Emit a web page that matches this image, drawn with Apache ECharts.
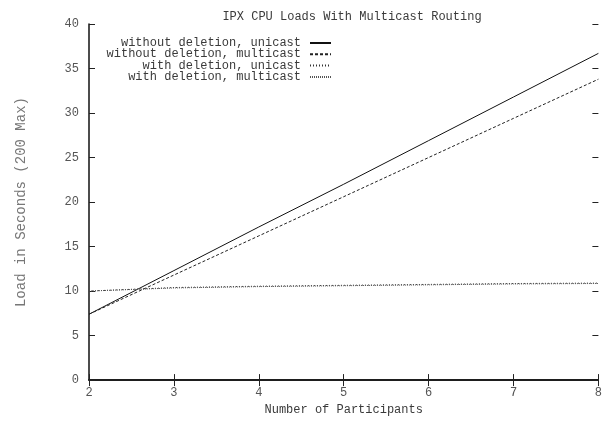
<!DOCTYPE html>
<html>
<head>
<meta charset="utf-8">
<script src="https://cdn.jsdelivr.net/npm/echarts@6/dist/echarts.min.js"></script>
<style>html,body{margin:0;padding:0;background:#fff}#c{width:605px;height:421px}</style>
</head>
<body>
<div id="c"></div>
<script>
var participants = [2, 3, 4, 5, 6, 7, 8];
var noDelUnicast = [7.4, 12.3, 17.2, 22.0, 26.9, 31.8, 36.7];
var noDelMulticast = [7.4, 11.8, 16.2, 20.6, 25.0, 29.4, 33.8];
var delUnicast = [10.0, 10.4, 10.55, 10.65, 10.75, 10.85, 10.9];
var delMulticast = [10.0, 10.35, 10.5, 10.6, 10.7, 10.8, 10.85];
var seriesNames = ['without deletion, unicast', 'without deletion, multicast', 'with deletion, unicast', 'with deletion, multicast'];
var xTicks = [2, 3, 4, 5, 6, 7, 8];
var yTicks = [0, 5, 10, 15, 20, 25, 30, 35, 40];

function pairs(ys) { return participants.map(function (x, i) { return [x, ys[i]]; }); }
var FONT = 'Liberation Mono';
var TXT = '#555';
var styles = [
  { color: '#111', type: 'solid', width: 1 },
  { color: '#222', type: [3, 2], width: 1 },
  { color: '#333', type: [1, 2], width: 1 },
  { color: '#555', type: [1, 1], width: 1 }
];
var allData = [noDelUnicast, noDelMulticast, delUnicast, delMulticast];

var chart = echarts.init(document.getElementById('c'), null, { renderer: 'canvas' });
var legends = seriesNames.map(function (n, i) {
  return {
    data: [n], right: 273, top: 37 + i * 11.3, align: 'right', orient: 'vertical',
    itemWidth: 21, itemHeight: 8, itemGap: 0, padding: 0,
    itemStyle: { opacity: 0 },
    textStyle: { fontFamily: FONT, fontSize: 12, color: '#3a3a3a', padding: [0, 4, 0, 0] },
    selectedMode: false
  };
});
var tickStyle = { show: true, inside: true, length: 6, lineStyle: { color: '#222', width: 1 } };
chart.setOption({
  animation: false,
  title: { text: 'IPX CPU Loads With Multicast Routing', left: 347, textAlign: 'center', top: 6,
    textStyle: { fontFamily: FONT, fontSize: 12, fontWeight: 'normal', color: '#3a3a3a' } },
  legend: legends,
  grid: { left: 89, right: -1, top: 24, bottom: 34 },
  xAxis: [{
    type: 'value', min: 2, max: 8, interval: 1, position: 'bottom',
    name: 'Number of Participants', nameLocation: 'middle', nameGap: 20,
    nameTextStyle: { fontFamily: FONT, fontSize: 12, color: '#3a3a3a' },
    axisLine: { show: true, lineStyle: { color: '#111', width: 1.5 } },
    axisTick: tickStyle, splitLine: { show: false },
    axisLabel: { fontFamily: FONT, fontSize: 12, color: TXT, margin: 7,
      formatter: function (v) { return xTicks.indexOf(v) >= 0 ? String(v) : ''; } }
  }, {
    type: 'value', min: 2, max: 8, interval: 1, position: 'top',
    axisLine: { show: true, lineStyle: { color: '#111', width: 1.5 } },
    axisTick: tickStyle, axisLabel: { show: false }, splitLine: { show: false }
  }],
  yAxis: [{
    type: 'value', min: 0, max: 40, interval: 5, position: 'left',
    name: 'Load in Seconds (200 Max)', nameLocation: 'middle', nameGap: 61, nameRotate: 90,
    nameTextStyle: { fontFamily: FONT, fontSize: 14, color: '#777' },
    axisLine: { show: true, lineStyle: { color: '#111', width: 1.5 } },
    axisTick: tickStyle, splitLine: { show: false },
    axisLabel: { fontFamily: FONT, fontSize: 12, color: TXT, margin: 10,
      formatter: function (v) { return yTicks.indexOf(v) >= 0 ? String(v) : ''; } }
  }, {
    type: 'value', min: 0, max: 40, interval: 5, position: 'right',
    axisLine: { show: false },
    axisTick: tickStyle, axisLabel: { show: false }, splitLine: { show: false }
  }],
  series: seriesNames.map(function (n, i) {
    return {
      name: n, type: 'line', data: pairs(allData[i]), symbol: 'none', showSymbol: false,
      xAxisIndex: 0, yAxisIndex: 0,
      lineStyle: styles[i], itemStyle: { color: styles[i].color }
    };
  })
});
</script>
</body>
</html>
